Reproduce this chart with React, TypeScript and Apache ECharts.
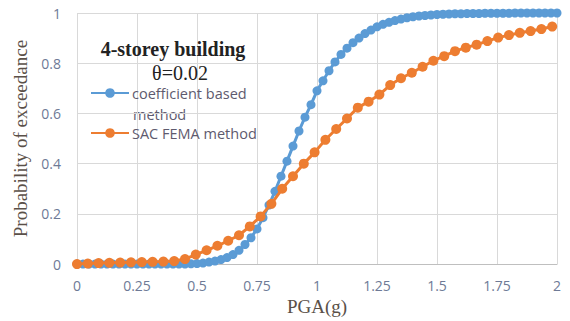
import React, { useEffect, useRef } from "react";
import * as echarts from "echarts";

// PGA values (g)
const blueX: number[] = [
  0, 0.025, 0.05, 0.075, 0.1, 0.125, 0.15, 0.175, 0.2, 0.225, 0.25, 0.275, 0.3, 0.325, 0.35, 0.375, 0.4, 0.425,
  0.45, 0.475, 0.5, 0.525, 0.55, 0.575, 0.6, 0.625, 0.65, 0.675, 0.7, 0.725, 0.75, 0.775, 0.8, 0.825, 0.85, 0.875,
  0.9, 0.925, 0.95, 0.975, 1.0, 1.025, 1.05, 1.075, 1.1, 1.125, 1.15, 1.175, 1.2, 1.225, 1.25, 1.275, 1.3, 1.325,
  1.35, 1.375, 1.4, 1.425, 1.45, 1.475, 1.5, 1.525, 1.55, 1.575, 1.6, 1.625, 1.65, 1.675, 1.7, 1.725, 1.75, 1.775,
  1.8, 1.825, 1.85, 1.875, 1.9, 1.925, 1.95, 1.975, 2.0,
];
// coefficient based method
const blueY: number[] = [
  0, 0, 0, 0, 0, 0, 0, 0, 0, 0, 0, 0, 0, 0, 0, 0, 0, 0,
  0, 0.001, 0.002, 0.004, 0.008, 0.012, 0.018, 0.026, 0.038, 0.055, 0.078, 0.105, 0.14, 0.185, 0.235, 0.29, 0.35, 0.41,
  0.47, 0.53, 0.585, 0.635, 0.69, 0.73, 0.77, 0.805, 0.835, 0.86, 0.882, 0.9, 0.918, 0.932, 0.945, 0.955, 0.963, 0.97,
  0.976, 0.981, 0.985, 0.988, 0.99, 0.992, 0.994, 0.995, 0.996, 0.997, 0.997, 0.998, 0.998, 0.998, 0.999, 0.999, 0.999, 0.999,
  0.999, 1.0, 1.0, 1.0, 1.0, 1.0, 1.0, 1.0, 1.0,
];
const orangeX: number[] = [
  0, 0.045, 0.09, 0.135, 0.18, 0.225, 0.27, 0.315, 0.36, 0.405, 0.45, 0.495, 0.54, 0.585, 0.63, 0.675, 0.72, 0.765,
  0.81, 0.855, 0.9, 0.945, 0.99, 1.035, 1.08, 1.125, 1.17, 1.215, 1.26, 1.305, 1.35, 1.395, 1.44, 1.485, 1.53, 1.575,
  1.62, 1.665, 1.71, 1.755, 1.8, 1.845, 1.89, 1.935, 1.98,
];
// SAC FEMA method
const orangeY: number[] = [
  0, 0.002, 0.004, 0.005, 0.006, 0.007, 0.008, 0.009, 0.01, 0.012, 0.02, 0.038, 0.055, 0.073, 0.093, 0.115, 0.15, 0.19,
  0.24, 0.3, 0.35, 0.4, 0.445, 0.495, 0.538, 0.58, 0.623, 0.647, 0.675, 0.713, 0.74, 0.762, 0.786, 0.81, 0.828, 0.848,
  0.862, 0.874, 0.888, 0.902, 0.912, 0.921, 0.928, 0.936, 0.946,
];

const seriesNames = ["coefficient based method", "SAC FEMA method"];
const titleLines = ["4-storey building", "θ=0.02"];

const BLUE = "#5B9BD5";
const ORANGE = "#ED7D31";

export default function App() {
  const ref = useRef<HTMLDivElement>(null);
  useEffect(() => {
    if (!ref.current) return;
    const chart = echarts.init(ref.current, undefined, { renderer: "svg" });
    const serif = "'Liberation Serif', 'DejaVu Serif', serif";
    const sans = "'Open Sans', 'Noto Sans', sans-serif";
    chart.setOption({
      animation: false,
      backgroundColor: "#ffffff",
      grid: { left: 77, right: 13, top: 13, bottom: 51 },
      title: [
        {
          text: titleLines[0],
          left: 173,
          top: 39,
          textAlign: "center",
          padding: 0,
          textStyle: { fontFamily: serif, fontSize: 20, fontWeight: "bold", color: "#222222", lineHeight: 20 },
        },
        {
          text: titleLines[1],
          left: 180,
          top: 63,
          textAlign: "center",
          padding: 0,
          textStyle: { fontFamily: serif, fontSize: 20, fontWeight: "normal", color: "#222222", lineHeight: 20 },
        },
      ],
      legend: {
        orient: "vertical",
        left: 90,
        top: 85,
        padding: 0,
        itemWidth: 38,
        itemHeight: 12,
        itemGap: 24,
        data: seriesNames,
        formatter: (name: string) => (name === seriesNames[0] ? "coefficient based" : name),
        textStyle: { fontFamily: sans, fontSize: 14.5, color: "#5e5a6e", lineHeight: 16, padding: [0, 0, 0, -2] },
      },
      graphic: [
        {
          type: "text",
          left: 133,
          top: 106,
          style: { text: "method", fontFamily: sans, fontSize: 14.5, fill: "#5e5a6e", lineHeight: 16 },
        },
      ],
      xAxis: {
        type: "value",
        min: 0,
        max: 2,
        interval: 0.25,
        name: "PGA(g)",
        nameLocation: "middle",
        nameGap: 26,
        nameTextStyle: { fontFamily: serif, fontSize: 19, color: "#5a5048" },
        axisLine: { show: true, lineStyle: { color: "#bfbfbf", width: 1 } },
        axisTick: { show: false },
        axisLabel: { fontFamily: sans, fontSize: 14, color: "#6e7a96", margin: 14 },
        splitLine: { show: true, lineStyle: { color: "#d9d9d9", width: 1 } },
      },
      yAxis: {
        type: "value",
        min: 0,
        max: 1,
        interval: 0.2,
        name: "Probability of exceedance",
        nameLocation: "middle",
        nameGap: 46,
        nameTextStyle: { fontFamily: serif, fontSize: 19, color: "#5a5048" },
        axisLine: { show: false },
        axisTick: { show: false },
        axisLabel: {
          fontFamily: sans,
          fontSize: 14,
          color: "#6e7a96",
          margin: 16,
          formatter: (v: number) => String(Math.round(v * 10) / 10),
        },
        splitLine: { show: true, lineStyle: { color: "#d9d9d9", width: 1 } },
      },
      series: [
        {
          name: seriesNames[0],
          type: "line",
          data: blueX.map((x, i) => [x, blueY[i]]),
          symbol: "circle",
          symbolSize: 9,
          lineStyle: { color: BLUE, width: 3 },
          itemStyle: { color: BLUE },
          z: 2,
        },
        {
          name: seriesNames[1],
          type: "line",
          data: orangeX.map((x, i) => [x, orangeY[i]]),
          symbol: "circle",
          symbolSize: 10,
          lineStyle: { color: ORANGE, width: 3 },
          itemStyle: { color: ORANGE },
          z: 3,
        },
      ],
    });
    return () => chart.dispose();
  }, []);
  return <div ref={ref} style={{ width: 570, height: 321, position: "absolute", left: 0, top: 0 }} />;
}
